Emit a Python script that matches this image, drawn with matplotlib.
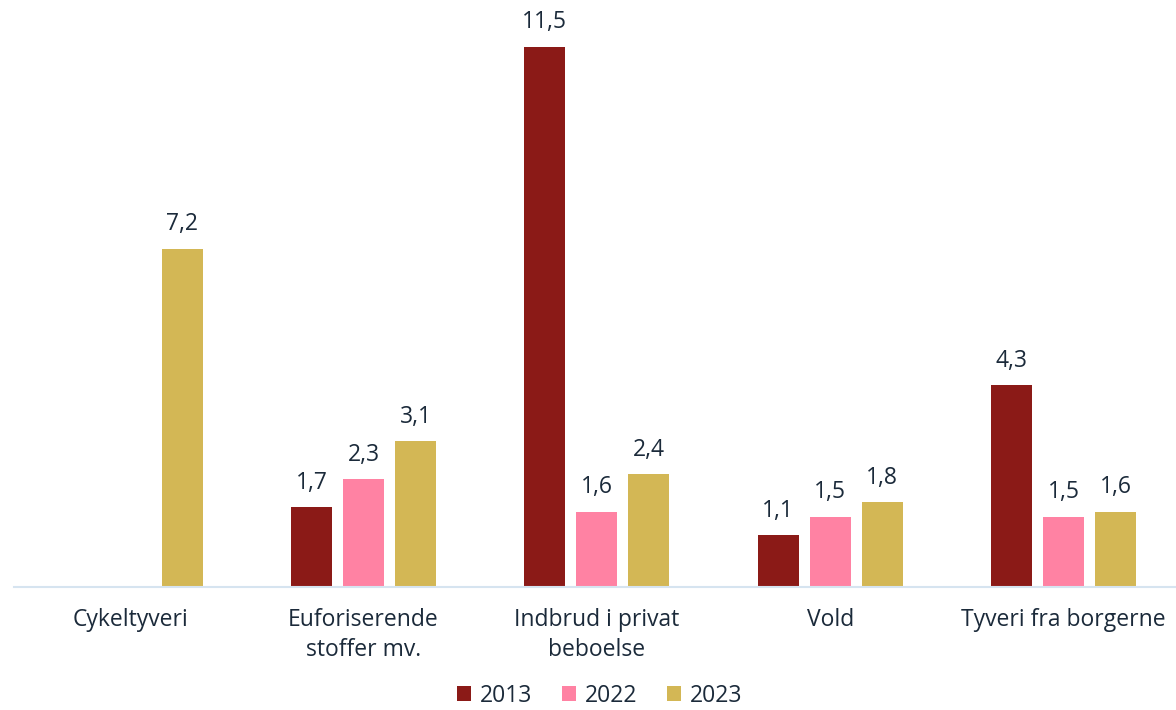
import matplotlib.pyplot as plt
import numpy as np

categories = ['Cykeltyveri', 'Euforiserende\nstoffer mv.', 'Indbrud i privat\nbeboelse',
              'Vold', 'Tyveri fra borgerne']
years = ['2013', '2022', '2023']
v2013 = [None, 1.7, 11.5, 1.1, 4.3]
v2022 = [None, 2.3, 1.6, 1.5, 1.5]
v2023 = [7.2, 3.1, 2.4, 1.8, 1.6]

colors = ['#8B1A17', '#FF82A3', '#D3B755']
txtcol = '#1B2A3A'
fs = 16.5

plt.rcParams['font.family'] = ['Open Sans', 'DejaVu Sans']

fig = plt.figure(figsize=(11.76, 7.1), dpi=100)
ax = fig.add_axes([0.0115, 0.1732, 0.99, 0.8268])

x = np.arange(len(categories))
width = 0.176
step = 0.223

for j, (vals, col) in enumerate(zip([v2013, v2022, v2023], colors)):
    xs = [xi + (j - 1) * step for xi, v in zip(x, vals) if v is not None]
    hs = [v for v in vals if v is not None]
    bars = ax.bar(xs, hs, width=width, color=col, label=years[j])
    for b, h in zip(bars, hs):
        ax.annotate(f'{h:.1f}'.replace('.', ','),
                    (b.get_x() + b.get_width() / 2, h),
                    xytext=(0, 9), textcoords='offset points',
                    ha='center', va='bottom', fontsize=fs, color=txtcol)

ax.set_xlim(-0.5, 4.49)
ax.set_ylim(0, 12.5)
ax.set_xticks(x)
ax.set_xticklabels(categories, fontsize=fs, color=txtcol, linespacing=1.32)
ax.tick_params(axis='x', length=0, pad=15)
ax.set_yticks([])
for s in ['top', 'right', 'left']:
    ax.spines[s].set_visible(False)
ax.spines['bottom'].set_color('#D6E4F0')
ax.spines['bottom'].set_linewidth(1.5)

leg = fig.legend(loc='center', bbox_to_anchor=(0.51, 0.02), ncol=3, frameon=False,
                 fontsize=fs, handlelength=0.6, handleheight=0.6,
                 handletextpad=0.4, columnspacing=1.3, borderpad=0.1)
for t in leg.get_texts():
    t.set_color(txtcol)

fig.savefig('out.png', dpi=100)
